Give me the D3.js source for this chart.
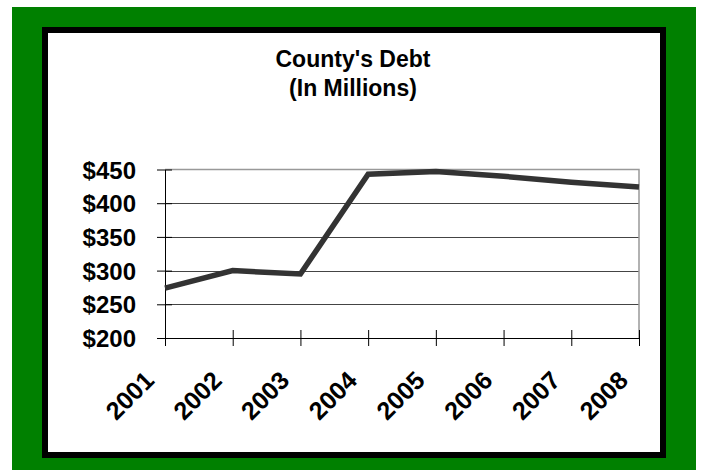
<!DOCTYPE html>
<html><head><meta charset="utf-8">
<script src="https://cdn.jsdelivr.net/npm/d3@7"></script>
<style>
html,body{margin:0;padding:0;background:#fff;}
svg{display:block;font-family:"Liberation Sans",Arial,sans-serif;}
</style></head>
<body><svg id="c" width="703" height="470"></svg>
<script>
const years = ["2001","2002","2003","2004","2005","2006","2007","2008"];
const debt = [274, 300, 295, 443, 447, 440, 431, 424];
const yTicks = [200, 250, 300, 350, 400, 450];
const titleLines = ["County's Debt", "(In Millions)"];

const svg = d3.select("#c");
// frame
svg.append("rect").attr("x",12).attr("y",7).attr("width",684).attr("height",463).attr("fill","#008000");
svg.append("rect").attr("x",42).attr("y",27).attr("width",624).attr("height",431).attr("fill","#000");
svg.append("rect").attr("x",48).attr("y",33).attr("width",612).attr("height",419).attr("fill","#fff");

const x = d3.scalePoint().domain(years).range([165, 639]);
const y = d3.scaleLinear().domain([200, 450]).range([338, 169.5]);

// title
svg.append("g").selectAll("text").data(titleLines).join("text")
  .attr("x", 353).attr("y", (d,i)=> 66.5 + i*29.5)
  .attr("text-anchor","middle").attr("font-weight","bold").attr("font-size",23)
  .text(d=>d);

// gridlines
svg.append("g").selectAll("line").data(yTicks.filter(v=>v>200 && v<450)).join("line")
  .attr("x1",165).attr("x2",639).attr("y1",d=>Math.round(y(d))+0.5).attr("y2",d=>Math.round(y(d))+0.5)
  .attr("stroke","#444").attr("stroke-width",1);
// plot border top/right
svg.append("path")
  .attr("d", `M165,${y(450)}H${x("2008")}V${y(200)}`)
  .attr("fill","none").attr("stroke","#999").attr("stroke-width",1.5);

// y axis
const yAxis = d3.axisLeft(y).tickValues(yTicks).tickFormat(d=>"$"+d).tickSizeInner(8).tickSizeOuter(0).tickPadding(20);
const gy = svg.append("g").attr("transform","translate(165,0)").call(yAxis);
gy.select(".domain").attr("stroke","#000");
gy.selectAll(".tick line").attr("x2",-8).attr("x1",7).attr("stroke","#000");
gy.selectAll("text").attr("font-size",24).attr("font-weight","bold").attr("fill","#000")
  .attr("font-family","Liberation Sans, Arial, sans-serif").attr("x",-29).attr("dy","0.36em");

// x axis
const xAxis = d3.axisBottom(x).tickSizeInner(8).tickSizeOuter(0).tickPadding(0);
const gx = svg.append("g").attr("transform","translate(0,338)").call(xAxis);
gx.select(".domain").attr("stroke","#000").attr("d",`M165,0.5H639`);
gx.selectAll(".tick line").attr("y1",-8).attr("y2",8).attr("stroke","#000");
gx.selectAll("text")
  .attr("font-size",25).attr("font-weight","bold").attr("fill","#000")
  .attr("font-family","Liberation Sans, Arial, sans-serif")
  .attr("text-anchor","end").attr("dy",null).attr("y",null)
  .attr("transform","translate(-10,44) rotate(-45)");

// line
const line = d3.line().x((d,i)=>x(years[i])).y(d=>y(d));
svg.append("path").datum(debt).attr("d", line)
  .attr("fill","none").attr("stroke","#333").attr("stroke-width",5.5).attr("stroke-linejoin","miter");
</script></body></html>
